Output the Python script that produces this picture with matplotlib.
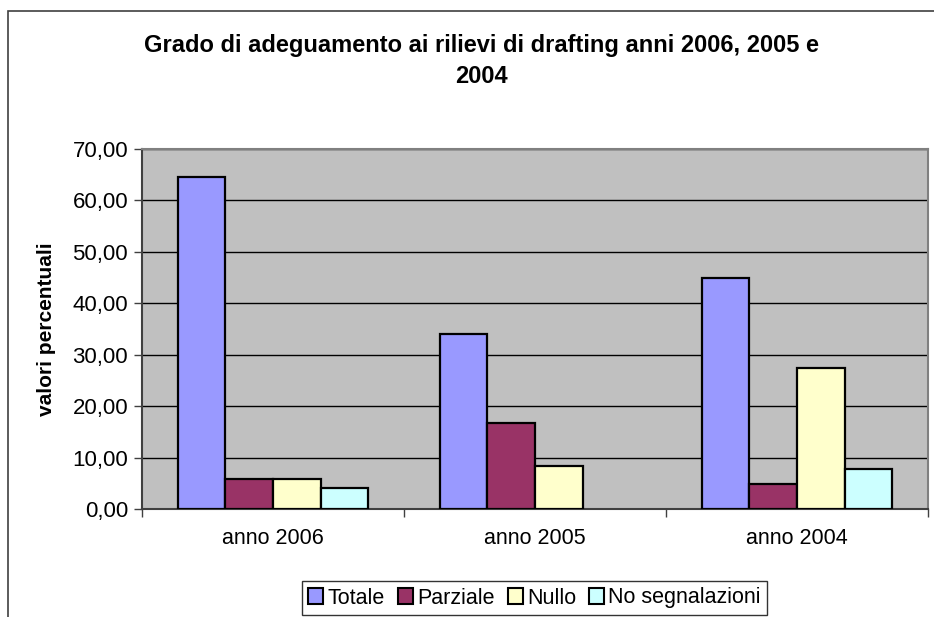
import matplotlib.pyplot as plt
from matplotlib.patches import Rectangle, Patch
from matplotlib.ticker import FuncFormatter
import numpy as np

plt.rcParams['font.family'] = ['Liberation Sans', 'DejaVu Sans']

# Data
categories = ['anno 2006', 'anno 2005', 'anno 2004']
series_names = ['Totale', 'Parziale', 'Nullo', 'No segnalazioni']
totale = [64.6, 34.0, 45.0]
parziale = [5.9, 16.8, 4.9]
nullo = [5.9, 8.4, 27.5]
no_segnalazioni = [4.0, 0.0, 7.8]
colors = ['#9999FF', '#993366', '#FFFFCC', '#CCFFFF']

W, H = 934, 617
fig = plt.figure(figsize=(W / 100, H / 100), dpi=100)

# outer chart frame
fig.patches.append(Rectangle((8 / W, -0.2), 1.2, 1.2 - 11 / H,
                             transform=fig.transFigure, fill=False,
                             edgecolor='#404040', linewidth=1.2))

ax = fig.add_axes([142 / W, 1 - 509 / H, (928 - 142) / W, (509 - 149) / H])
ax.set_facecolor('#C0C0C0')

width = 1 / 5.5
offsets = np.array([-1.5, -0.5, 0.5, 1.5]) * width
centers = np.arange(len(categories)) + 0.5
all_series = [totale, parziale, nullo, no_segnalazioni]
for i, (name, vals) in enumerate(zip(series_names, all_series)):
    lw = [1.6 if v > 0 else 0 for v in vals]
    ax.bar(centers + offsets[i], vals, width=width, color=colors[i],
           edgecolor='black', linewidth=lw, label=name, zorder=3)

ax.set_xlim(0, 3)
ax.set_ylim(0, 70)
ax.set_yticks(np.arange(0, 71, 10))
ax.yaxis.set_major_formatter(FuncFormatter(lambda v, p: f'{v:.2f}'.replace('.', ',')))
ax.grid(axis='y', color='black', linewidth=1.0, zorder=1)
ax.set_axisbelow(True)

# category boundary ticks, labels in the middle
ax.set_xticks([0, 1, 2, 3])
ax.set_xticklabels([])
ax.set_xticks(centers, minor=True)
ax.set_xticklabels(categories, minor=True, fontsize=15.5)
ax.tick_params(axis='x', which='major', direction='out', length=6, width=1, color='#404040')
ax.tick_params(axis='x', which='minor', length=0, pad=14)
ax.tick_params(axis='y', direction='out', length=6, width=1, color='#404040',
               labelsize=16, pad=4)

for s in ax.spines.values():
    s.set_color('#808080')
    s.set_linewidth(1.5)
ax.spines['left'].set_color('#404040')
ax.spines['bottom'].set_color('#404040')

ax.set_ylabel('valori percentuali', fontsize=15, fontweight='bold', labelpad=12)

fig.text(481 / W, 1 - 61 / H, 'Grado di adeguamento ai rilievi di drafting anni 2006, 2005 e\n2004',
         ha='center', va='center', fontsize=17, fontweight='bold', linespacing=1.45)

handles = [Patch(facecolor=c, edgecolor='black', linewidth=1.5) for c in colors]
leg = fig.legend(handles, series_names, loc='center', bbox_to_anchor=(534.5 / W, 1 - 598 / H),
                 ncol=4, fontsize=15.5, frameon=True, fancybox=False, edgecolor='black',
                 handlelength=0.7, handleheight=0.7, handletextpad=0.2, columnspacing=0.6,
                 borderpad=0.3, borderaxespad=0)
leg.get_frame().set_linewidth(1.0)

fig.savefig('out.png', dpi=100)
